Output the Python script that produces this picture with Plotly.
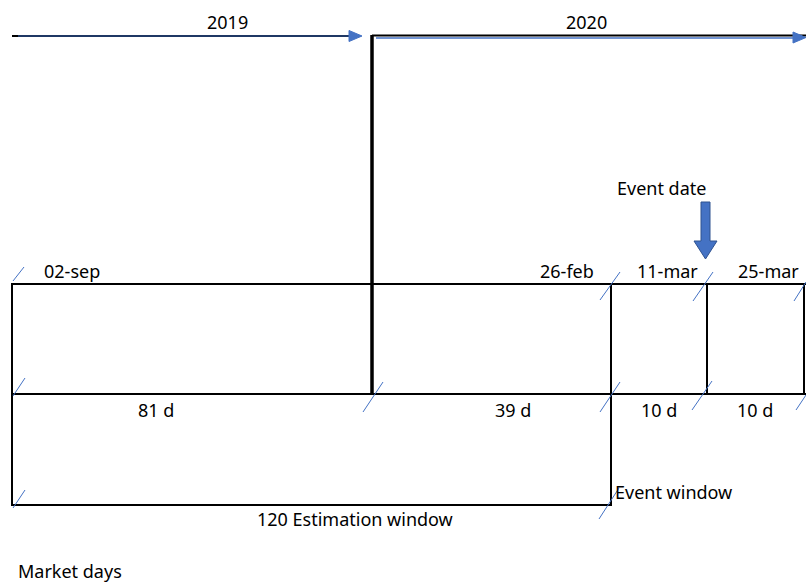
import plotly.graph_objects as go

# ---- content ----
years = ["2019", "2020"]
dates = ["02-sep", "26-feb", "11-mar", "25-mar"]
day_labels = ["81 d", "39 d", "10 d", "10 d"]
window_labels = ["120 Estimation window", "Event window"]
event_label = "Event date"
footer_label = "Market days"

# ---- layout geometry (pixel canvas) ----
W, H = 806, 584
FONT = "Noto Sans"
FS = 18
BLUE = "#4472c4"
NAVY = "#1f3864"

fig = go.Figure()
shapes = []

def line(x0, y0, x1, y1, color="black", width=2):
    shapes.append(dict(type="line", xref="x", yref="y", x0=x0, y0=y0, x1=x1, y1=y1,
                       line=dict(color=color, width=width), layer="above"))

def poly(pts, fill, outline=None):
    p = "M " + " L ".join(f"{x},{y}" for x, y in pts) + " Z"
    shapes.append(dict(type="path", xref="x", yref="y", path=p, fillcolor=fill,
                       line=dict(color=outline or fill, width=1), layer="above"))

# Top timeline
line(12, 36, 18, 36, "black", 2)
line(18, 36, 352, 36, NAVY, 2)
poly([(349, 30.5), (349, 41.5), (362, 36)], BLUE)
line(372, 35.5, 806, 35.5, "black", 2)
line(376, 38, 795, 38, BLUE, 1.5)
poly([(793, 32), (793, 43), (806, 37.5)], BLUE)

# Thick year divider
line(372, 35, 372, 395, "black", 3.5)

# Boxes
line(12, 284, 806, 284)
line(12, 394, 806, 394)
line(12, 505, 611, 505)
line(12, 283, 12, 506)
line(611, 283, 611, 506)
line(707, 283, 707, 395)
line(804, 283, 804, 395)

# Blue break slashes
slashes = [(13, 281, 24, 267), (13, 396, 25, 378), (363, 412, 383, 382),
           (600, 300, 620, 272), (600, 412, 620, 382), (693, 301, 713, 272),
           (692, 410, 712, 381), (794, 301, 806, 282), (796, 410, 806, 395),
           (13, 508, 25, 490), (599, 519, 619, 488)]
for s in slashes:
    line(*s, color=BLUE, width=1)

# Event date arrow
poly([(701, 202), (710, 202), (710, 241), (717, 241), (705.5, 259),
      (694, 241), (701, 241)], BLUE, "#2f528f")

anns = []
def text(x, y, t, anchor="center"):
    anns.append(dict(x=x, y=y, xref="x", yref="y", text=t, showarrow=False,
                     xanchor=anchor, yanchor="middle",
                     font=dict(family=FONT, size=FS, color="black")))

text(227, 22, years[0])
text(586, 22, years[1])
text(72, 271, dates[0])
text(567, 271, dates[1])
text(667, 271, dates[2])
text(768, 271, dates[3])
text(661, 188, event_label)
text(156, 410, day_labels[0])
text(513, 410, day_labels[1])
text(659, 410, day_labels[2])
text(755, 410, day_labels[3])
text(355, 519, window_labels[0])
text(613, 492, window_labels[1], "left")
text(16, 571, footer_label, "left")

fig.update_layout(
    width=W, height=H,
    margin=dict(l=0, r=0, t=0, b=0),
    paper_bgcolor="white", plot_bgcolor="white",
    xaxis=dict(range=[0, W], visible=False, fixedrange=True),
    yaxis=dict(range=[H, 0], visible=False, fixedrange=True),
    shapes=shapes, annotations=anns, showlegend=False,
)
fig.write_html("out.html", config={"displayModeBar": False},
               post_script="document.body.style.margin='0';document.body.style.overflow='hidden';")
